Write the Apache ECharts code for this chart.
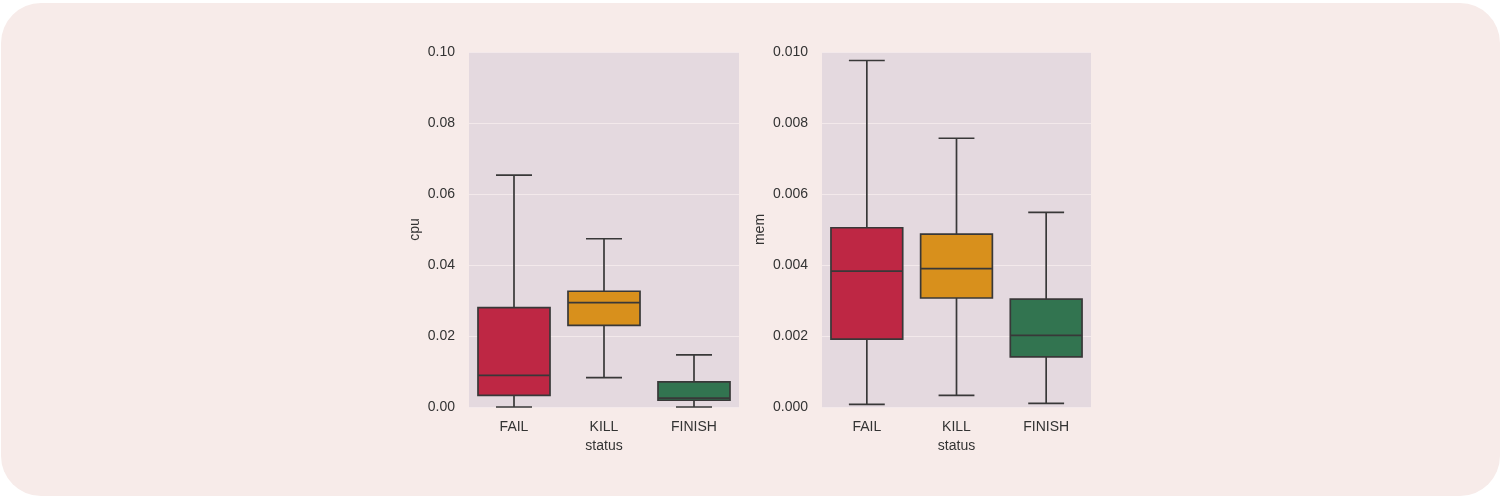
<!DOCTYPE html>
<html>
<head>
<meta charset="utf-8">
<script src="https://cdn.jsdelivr.net/npm/echarts@6/dist/echarts.min.js"></script>
<style>
html,body{margin:0;padding:0;background:#ffffff;width:1501px;height:499px;overflow:hidden;}
#bg{position:absolute;left:1px;top:3px;width:1499px;height:493px;border-radius:40px;background:#f7ebe9;}
#chart{position:absolute;left:0;top:0;width:1501px;height:499px;}
</style>
</head>
<body>
<div id="bg"></div>
<div id="chart"></div>
<script>
// Data
const categories = ['FAIL', 'KILL', 'FINISH'];
const colors = ['#be2744', '#d8901c', '#327450'];
// [low whisker, Q1, median, Q3, high whisker]
const cpuStats = [
  [0.0000, 0.0033, 0.0089, 0.0280, 0.0653],
  [0.0083, 0.0230, 0.0294, 0.0326, 0.0474],
  [0.0000, 0.0019, 0.0025, 0.0071, 0.0147]
];
const memStats = [
  [0.000075, 0.00191, 0.00383, 0.00505, 0.00976],
  [0.00033, 0.00307, 0.00390, 0.00487, 0.00757],
  [0.00010, 0.00141, 0.00202, 0.00304, 0.00548]
];
const cpuTicks = { min: 0, max: 0.1, interval: 0.02, digits: 2 };
const memTicks = { min: 0, max: 0.01, interval: 0.002, digits: 3 };

const edge = '#383838';
const textColor = '#333333';
const font = 'Liberation Sans, Arial, sans-serif';
const fs = 14;

function toRows(stats) {
  return stats.map((s, i) => [i].concat(s));
}

function renderBox(params, api) {
  const ci = api.value(0);
  const low = api.coord([ci, api.value(1)]);
  const q1 = api.coord([ci, api.value(2)]);
  const med = api.coord([ci, api.value(3)]);
  const q3 = api.coord([ci, api.value(4)]);
  const high = api.coord([ci, api.value(5)]);
  const bw = api.size([1, 0])[0] * 0.8;
  const x = low[0];
  const hw = bw / 2, cw = bw / 4;
  const ls = { stroke: edge, lineWidth: 1.7 };
  return {
    type: 'group',
    children: [
      { type: 'line', shape: { x1: x, y1: high[1], x2: x, y2: q3[1] }, style: ls },
      { type: 'line', shape: { x1: x, y1: q1[1], x2: x, y2: low[1] }, style: ls },
      { type: 'line', shape: { x1: x - cw, y1: high[1], x2: x + cw, y2: high[1] }, style: ls },
      { type: 'line', shape: { x1: x - cw, y1: low[1], x2: x + cw, y2: low[1] }, style: ls },
      { type: 'rect', shape: { x: x - hw, y: q3[1], width: bw, height: q1[1] - q3[1] },
        style: { fill: colors[ci], stroke: edge, lineWidth: 1.7 } },
      { type: 'line', shape: { x1: x - hw, y1: med[1], x2: x + hw, y2: med[1] }, style: ls }
    ]
  };
}

function xAxisFor(gi) {
  return {
    type: 'category', gridIndex: gi, data: categories,
    name: 'status', nameLocation: 'middle', nameGap: 30,
    nameTextStyle: { color: textColor, fontSize: fs, fontFamily: font },
    axisLine: { show: false }, axisTick: { show: false },
    axisLabel: { color: textColor, fontSize: fs, fontFamily: font, margin: 13 },
    splitLine: { show: false }
  };
}
function yAxisFor(gi, name, t, gap) {
  return {
    type: 'value', gridIndex: gi, min: t.min, max: t.max, interval: t.interval,
    name: name, nameLocation: 'middle', nameGap: gap,
    nameTextStyle: { color: textColor, fontSize: fs, fontFamily: font },
    axisLine: { show: false }, axisTick: { show: false },
    axisLabel: { color: textColor, fontSize: fs, fontFamily: font, margin: 14,
      formatter: v => v.toFixed(t.digits) },
    splitLine: { show: true, lineStyle: { color: '#f3e9eb', width: 1 } }
  };
}

const chart = echarts.init(document.getElementById('chart'), null, { renderer: 'canvas' });
chart.setOption({
  backgroundColor: 'transparent',
  animation: false,
  grid: [
    { left: 469, top: 52, width: 270, height: 355, show: true, backgroundColor: '#e4d9df', borderWidth: 0 },
    { left: 822, top: 52, width: 269, height: 355, show: true, backgroundColor: '#e4d9df', borderWidth: 0 }
  ],
  xAxis: [xAxisFor(0), xAxisFor(1)],
  yAxis: [yAxisFor(0, 'cpu', cpuTicks, 47), yAxisFor(1, 'mem', memTicks, 55)],
  series: [
    { type: 'custom', xAxisIndex: 0, yAxisIndex: 0, data: toRows(cpuStats),
      encode: { x: 0, y: [1, 2, 3, 4, 5] }, renderItem: renderBox },
    { type: 'custom', xAxisIndex: 1, yAxisIndex: 1, data: toRows(memStats),
      encode: { x: 0, y: [1, 2, 3, 4, 5] }, renderItem: renderBox }
  ]
});
</script>
</body>
</html>
